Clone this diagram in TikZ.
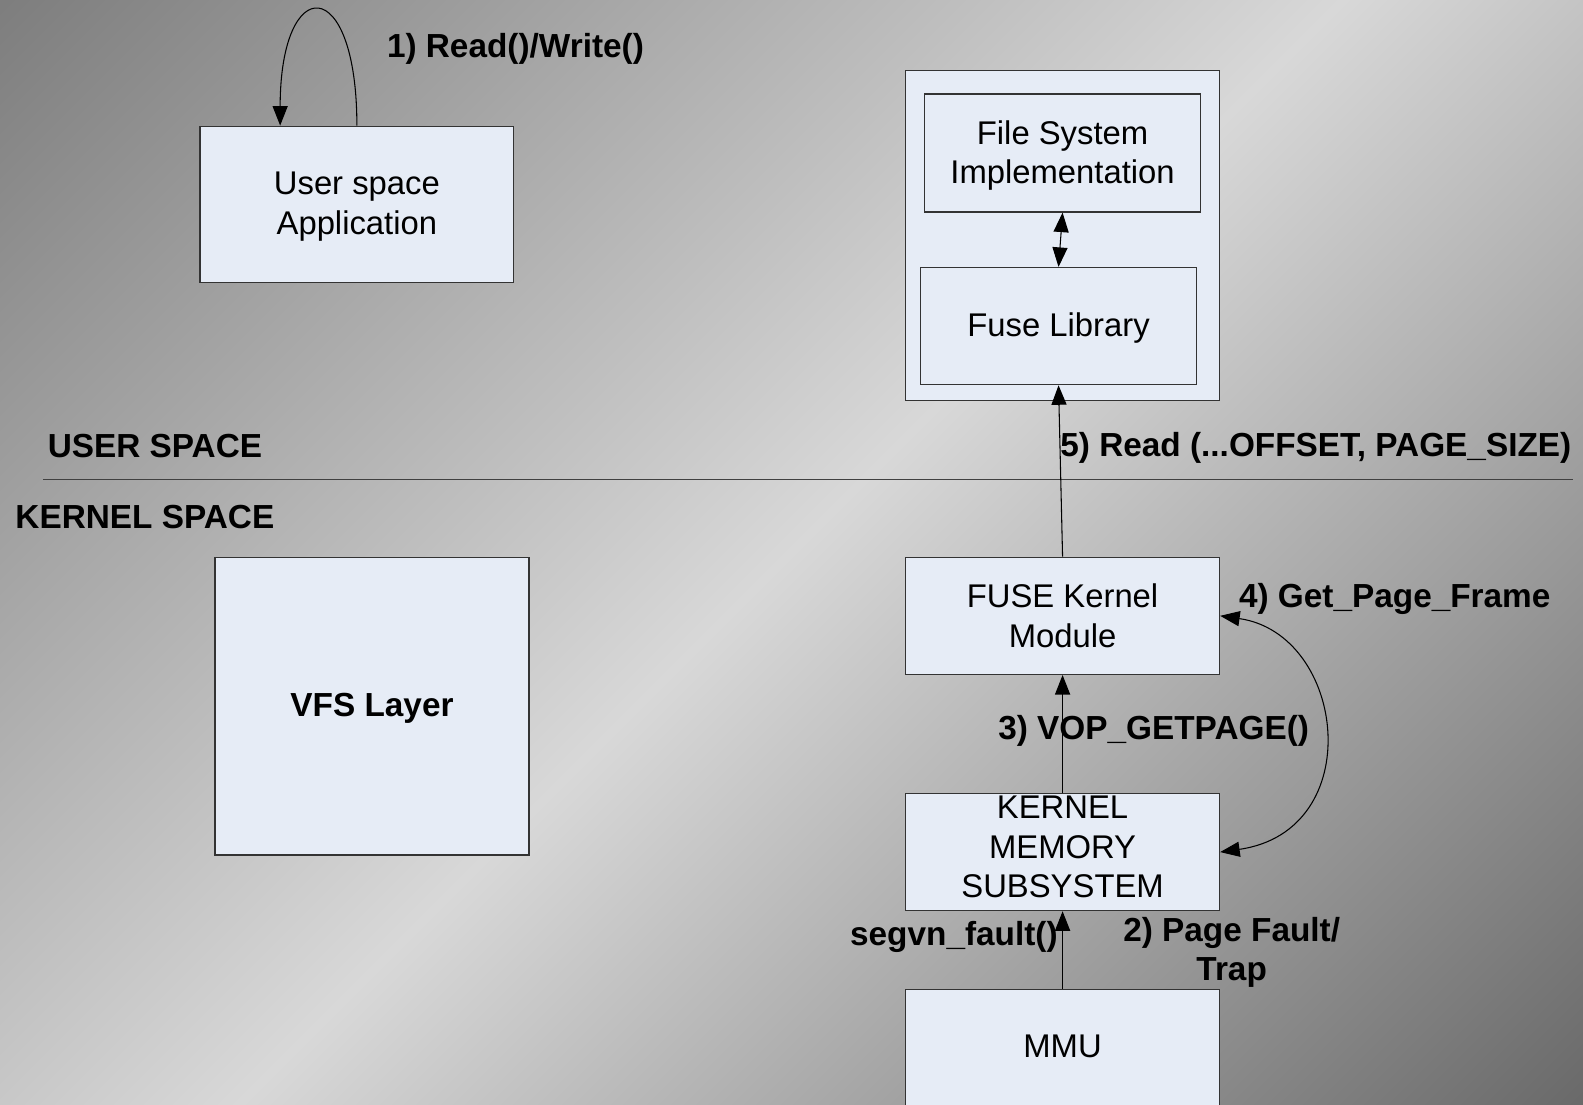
\documentclass[tikz,border=0pt]{standalone}
\usepackage{fontspec}
\setmainfont{Liberation Sans}
\usetikzlibrary{arrows.meta,calc}
\definecolor{boxfill}{HTML}{E6ECF6}
\definecolor{boxline}{HTML}{333333}
\definecolor{bgdark}{HTML}{7E7E7E}
\definecolor{bglight}{HTML}{D8D8D8}
\definecolor{bgdarker}{HTML}{6A6A6A}
\definecolor{sepline}{HTML}{404040}
\pgfdeclareverticalshading{bgsh}{100bp}{color(0bp)=(bgdarker); color(14.64bp)=(bgdarker); color(50bp)=(bglight); color(85.36bp)=(bgdark); color(100bp)=(bgdark)}
\newcommand{\lowerby}[2]{\raisebox{-#1}[\height][\depth]{#2}}
\begin{document}
\begin{tikzpicture}[x=0.02cm,y=-0.02cm,
  font=\fontsize{18.5pt}{22.4pt}\selectfont,
  box/.style={draw=boxline,line width=0.7pt,fill=boxfill,inner sep=0pt,align=center},
  lbl/.style={font=\fontsize{18.8pt}{22.4pt}\selectfont\bfseries,inner sep=0pt},
  arr/.style={line width=0.6pt,-{Triangle[length=11pt,width=8.5pt]}},
  darr/.style={line width=0.6pt,{Triangle[length=11pt,width=8.5pt]}-{Triangle[length=11pt,width=8.5pt]}}]
\useasboundingbox (0,0) rectangle (1568,1094);
\clip (0,0) rectangle (1568,1094);
\path[shading=bgsh,shading angle=45] (0,0) rectangle (1568,1094);

% boxes
\node[box,minimum width=311*0.02cm,minimum height=155*0.02cm] (app) at (353.5,202.5) {\lowerby{1.2pt}{\parbox{6cm}{\centering User space\\Application}}};
\node[box,minimum width=311*0.02cm,minimum height=327*0.02cm] (outer) at (1052.5,233.5) {};
\node[box,minimum width=273*0.02cm,minimum height=117*0.02cm] (fsi) at (1052.5,151.5) {\lowerby{1.4pt}{\parbox{5cm}{\centering File System\\Implementation}}};
\node[box,minimum width=273*0.02cm,minimum height=116*0.02cm] (fl) at (1048.5,323) {\lowerby{1.1pt}{Fuse Library}};
\node[box,minimum width=311*0.02cm,minimum height=295*0.02cm,font=\fontsize{18.8pt}{22.4pt}\selectfont\bfseries] (vfs) at (368.5,699.5) {\lowerby{1.1pt}{VFS Layer}};
\node[box,minimum width=311*0.02cm,minimum height=116*0.02cm] (fkm) at (1052.5,610) {FUSE Kernel\\Module};
\node[box,minimum width=311*0.02cm,minimum height=116*0.02cm] (kms) at (1052.5,844) {};
\node[align=center,inner sep=0pt] (kmst) at (1052.5,839) {KERNEL\\MEMORY\\SUBSYSTEM};
\node[box,minimum width=311*0.02cm,minimum height=140*0.02cm] (mmu) at (1052.5,1050) {};
\node[inner sep=0pt] (mmut) at (1052.5,1036) {MMU};

% separator
\draw[sepline,line width=0.8pt] (42.5,475) -- (1558,475);

% labels
\node[lbl,anchor=base west] (l1) at (383,56.5) {1) Read()/Write()};
\node[lbl,anchor=base west] (us) at (47,453.5) {USER SPACE};
\node[lbl,anchor=base west] (ks) at (15,523) {KERNEL SPACE};
\node[lbl,anchor=base west] (l5) at (1050,452) {5) Read (...OFFSET, PAGE\_SIZE)};
\node[lbl,anchor=base west] (l4) at (1227,602) {4) Get\_Page\_Frame};
\node[lbl,anchor=base west] (l3) at (988.5,732) {3) VOP\_GETPAGE()};
\node[lbl,anchor=base east] (lsf) at (1048,937) {segvn\_fault()};
\node[lbl,align=center,anchor=north] (l2) at (1220,908) {2) Page Fault/\\Trap};

% connectors
\draw[arr] (app.north) .. controls +(0,-152) and +(0,-152) .. ($(app.north)+(-76,0)$);
\draw[darr] (fsi.south) -- (fl.north);
\draw[arr] (fkm.north) -- (fl.south);
\draw[arr] (kms.north) -- (fkm.south);
\draw[darr] (fkm.east) .. controls +(125,18) and +(147,-21) .. (kms.east);
\draw[arr] (mmu.north) -- (kms.south);
\end{tikzpicture}
\end{document}
